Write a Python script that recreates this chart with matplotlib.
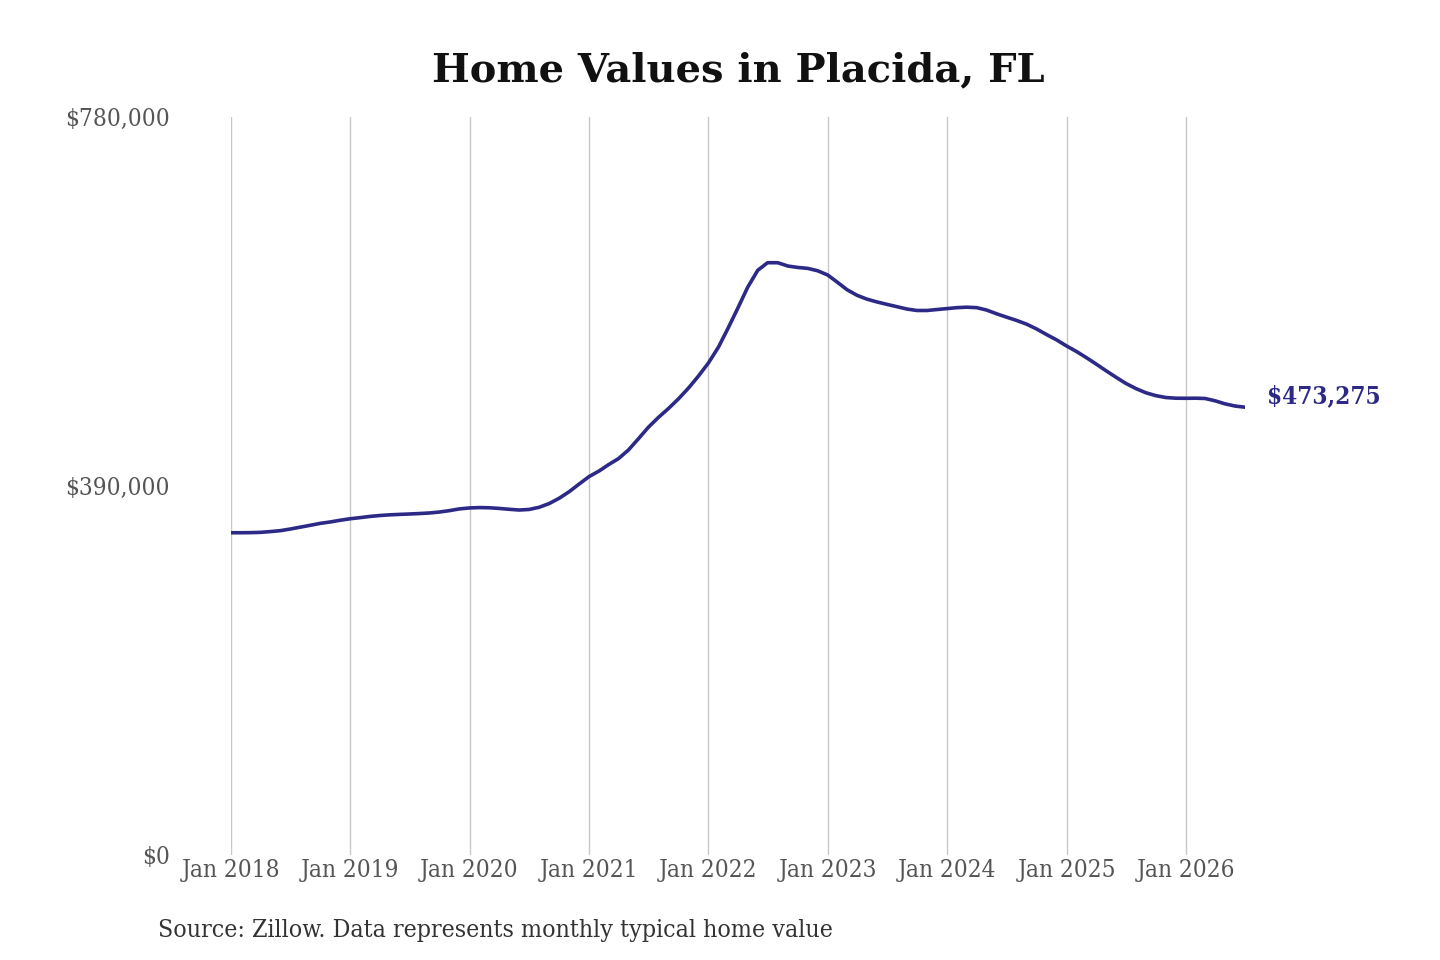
import matplotlib
matplotlib.use("Agg")
import matplotlib.pyplot as plt
import pandas as pd

title = "Home Values in Placida, FL"
source = "Source: Zillow. Data represents monthly typical home value"
start_month = "2018-01-01"
values = [
    340600, 340600, 340700, 341000, 341800, 342800,
    344500, 346500, 348500, 350500, 352000, 353800,
    355400, 356600, 357800, 358800, 359500, 360000,
    360400, 360900, 361500, 362500, 364000, 365800,
    366800, 367200, 367000, 366300, 365400, 364600,
    365200, 367500, 371500, 377000, 384000, 392000,
    400000, 406000, 412500, 419000, 428000, 440000,
    452000, 462500, 472000, 482000, 493500, 506000,
    520000, 537000, 556000, 578000, 600000, 618000,
    626000, 626000, 622500, 621000, 620000, 617500,
    613000, 605000, 597500, 591500, 587500, 584500,
    582000, 579500, 577000, 575500, 575500, 576500,
    577500, 578500, 579000, 578500, 576000, 572000,
    568500, 565000, 561000, 556000, 550000, 544500,
    538000, 532000, 526000, 519000, 512000, 505000,
    498500, 493000, 488500, 485500, 483500, 482800,
    482700, 482800, 482500, 480000, 476800, 474500,
    473275,
]
y_ticks = [0, 390000, 780000]
y_tick_labels = ["$0", "$390,000", "$780,000"]
x_tick_years = list(range(2018, 2027))

dates = pd.date_range(start_month, periods=len(values), freq="MS")

line_color = "#2d2a87"
fig = plt.figure(figsize=(14.4, 9.6), dpi=100)
ax = fig.add_axes([231/1440, 1 - 855/960, (1245-231)/1440, (855-117)/960])

ax.plot(dates, values, color=line_color, linewidth=2.6, solid_capstyle="round")
ax.set_xlim(dates[0], dates[-1])
ax.set_ylim(0, 780000)

xt = [pd.Timestamp(f"{y}-01-01") for y in x_tick_years]
ax.set_xticks(xt)
ax.set_xticklabels([f"Jan {y}" for y in x_tick_years])
ax.set_yticks(y_ticks)
ax.set_yticklabels(y_tick_labels)

for lab in ax.get_xticklabels() + ax.get_yticklabels():
    lab.set_fontfamily("DejaVu Serif")
    lab.set_fontstretch("condensed")
    lab.set_fontsize(17.5)
    lab.set_color("#555555")

ax.tick_params(axis="both", length=0)
ax.tick_params(axis="x", pad=3)
ax.tick_params(axis="y", pad=44)
for lab in ax.get_yticklabels():
    lab.set_horizontalalignment("right")

ax.grid(axis="x", color="#c8c8c8", linewidth=1)
ax.grid(axis="y", visible=False)
for s in ax.spines.values():
    s.set_visible(False)

ax.annotate(f"${values[-1]:,}", xy=(dates[-1], values[-1]), xytext=(16, 8),
            textcoords="offset points", ha="left", va="center",
            fontfamily="DejaVu Serif", fontstretch="condensed", fontweight="bold",
            fontsize=17.5, color=line_color, annotation_clip=False)

fig.text(738/1440, 1 - 70/960, title, ha="center", va="center",
         fontfamily="DejaVu Serif", fontweight="bold", fontsize=28.8, color="#111111")
fig.text(158/1440, 1 - 931/960, source, ha="left", va="center",
         fontfamily="DejaVu Serif", fontstretch="condensed", fontsize=17.8, color="#333333")

fig.savefig("out.png", dpi=100, facecolor="white")
